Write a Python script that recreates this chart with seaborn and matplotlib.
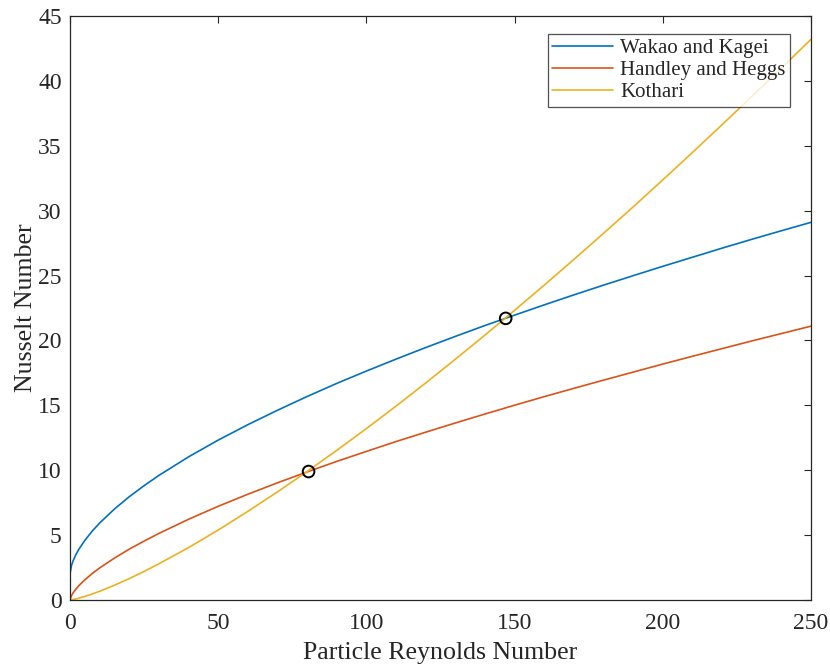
import numpy as np
import pandas as pd
import matplotlib
matplotlib.use("Agg")
import matplotlib.pyplot as plt
import seaborn as sns

re_vals = [0, 0.5, 1, 2, 3, 5, 7.5, 10, 15, 20, 25, 30, 40, 50, 60, 70, 80, 90, 100,
           110, 120, 130, 140, 150, 160, 170, 180, 190, 200, 210, 220, 230, 240, 250]
wakao = [2.0, 2.65, 2.99, 3.50, 3.91, 4.59, 5.31, 5.93, 7.01, 7.96, 8.81, 9.60, 11.03,
         12.32, 13.51, 14.62, 15.68, 16.69, 17.64, 18.56, 19.45, 20.31, 21.15, 21.95,
         22.74, 23.51, 24.26, 24.99, 25.71, 26.41, 27.11, 27.79, 28.45, 29.10]
handley = [0.0, 0.335, 0.53, 0.84, 1.11, 1.55, 2.04, 2.47, 3.23, 3.92, 4.54, 5.13, 6.22,
           7.22, 8.15, 9.03, 9.87, 10.68, 11.45, 12.21, 12.93, 13.64, 14.33, 15.01,
           15.67, 16.31, 16.94, 17.56, 18.18, 18.78, 19.37, 19.96, 20.53, 21.10]
kothari = [0.0, 0.014, 0.034, 0.084, 0.142, 0.275, 0.464, 0.672, 1.14, 1.65, 2.20, 2.79,
           4.04, 5.39, 6.83, 8.33, 9.90, 11.53, 13.21, 14.94, 16.72, 18.55, 20.41, 22.32,
           24.26, 26.24, 28.25, 30.29, 32.37, 34.48, 36.62, 38.79, 40.98, 43.20]
series_names = ["Wakao and Kagei", "Handley and Heggs", "Kothari"]
colors = ["#0072BD", "#D95319", "#EDB120"]
cross_re = [80.5, 147]
cross_nu = [9.9, 21.7]

df = pd.concat([
    pd.DataFrame({"Re": re_vals, "Nu": v, "Correlation": n})
    for v, n in zip([wakao, handley, kothari], series_names)
])

sns.set_style("white")
plt.rcParams["font.family"] = ["Liberation Serif", "DejaVu Serif"]

fig = plt.figure(figsize=(8.3, 6.65), dpi=100)
ax = fig.add_axes([0.0843, 0.0977, 0.8928, 0.8783])

sns.lineplot(data=df, x="Re", y="Nu", hue="Correlation", palette=colors,
             hue_order=series_names, linewidth=1.2, ax=ax, sort=False)
ax.scatter(cross_re, cross_nu, s=70, facecolors="none", edgecolors="black",
           linewidths=1.4, zorder=5)

ax.set_xlim(0, 250)
ax.set_ylim(0, 45)
ax.set_xticks(range(0, 251, 50))
ax.set_yticks(range(0, 46, 5))
ax.tick_params(direction="in", length=5, width=0.8, top=True, right=True,
               labelsize=17, colors="#262626", labelcolor="#262626")
ax.tick_params(axis="x", pad=9)
ax.tick_params(axis="y", pad=6)
for s in ax.spines.values():
    s.set_color("#262626")
    s.set_linewidth(0.9)
ax.set_xlabel("Particle Reynolds Number", fontsize=18.6, color="#262626", labelpad=6)
ax.set_ylabel("Nusselt Number", fontsize=18.6, color="#262626", labelpad=1)

leg = ax.legend(loc="upper right", bbox_to_anchor=(0.98, 0.98), fontsize=15,
                frameon=True, fancybox=False, edgecolor="#262626",
                handlelength=2.9, borderpad=0.22, labelspacing=0.12, handletextpad=0.35,
                borderaxespad=0.3)
leg.get_frame().set_linewidth(0.9)

fig.savefig("out.png", dpi=100)
